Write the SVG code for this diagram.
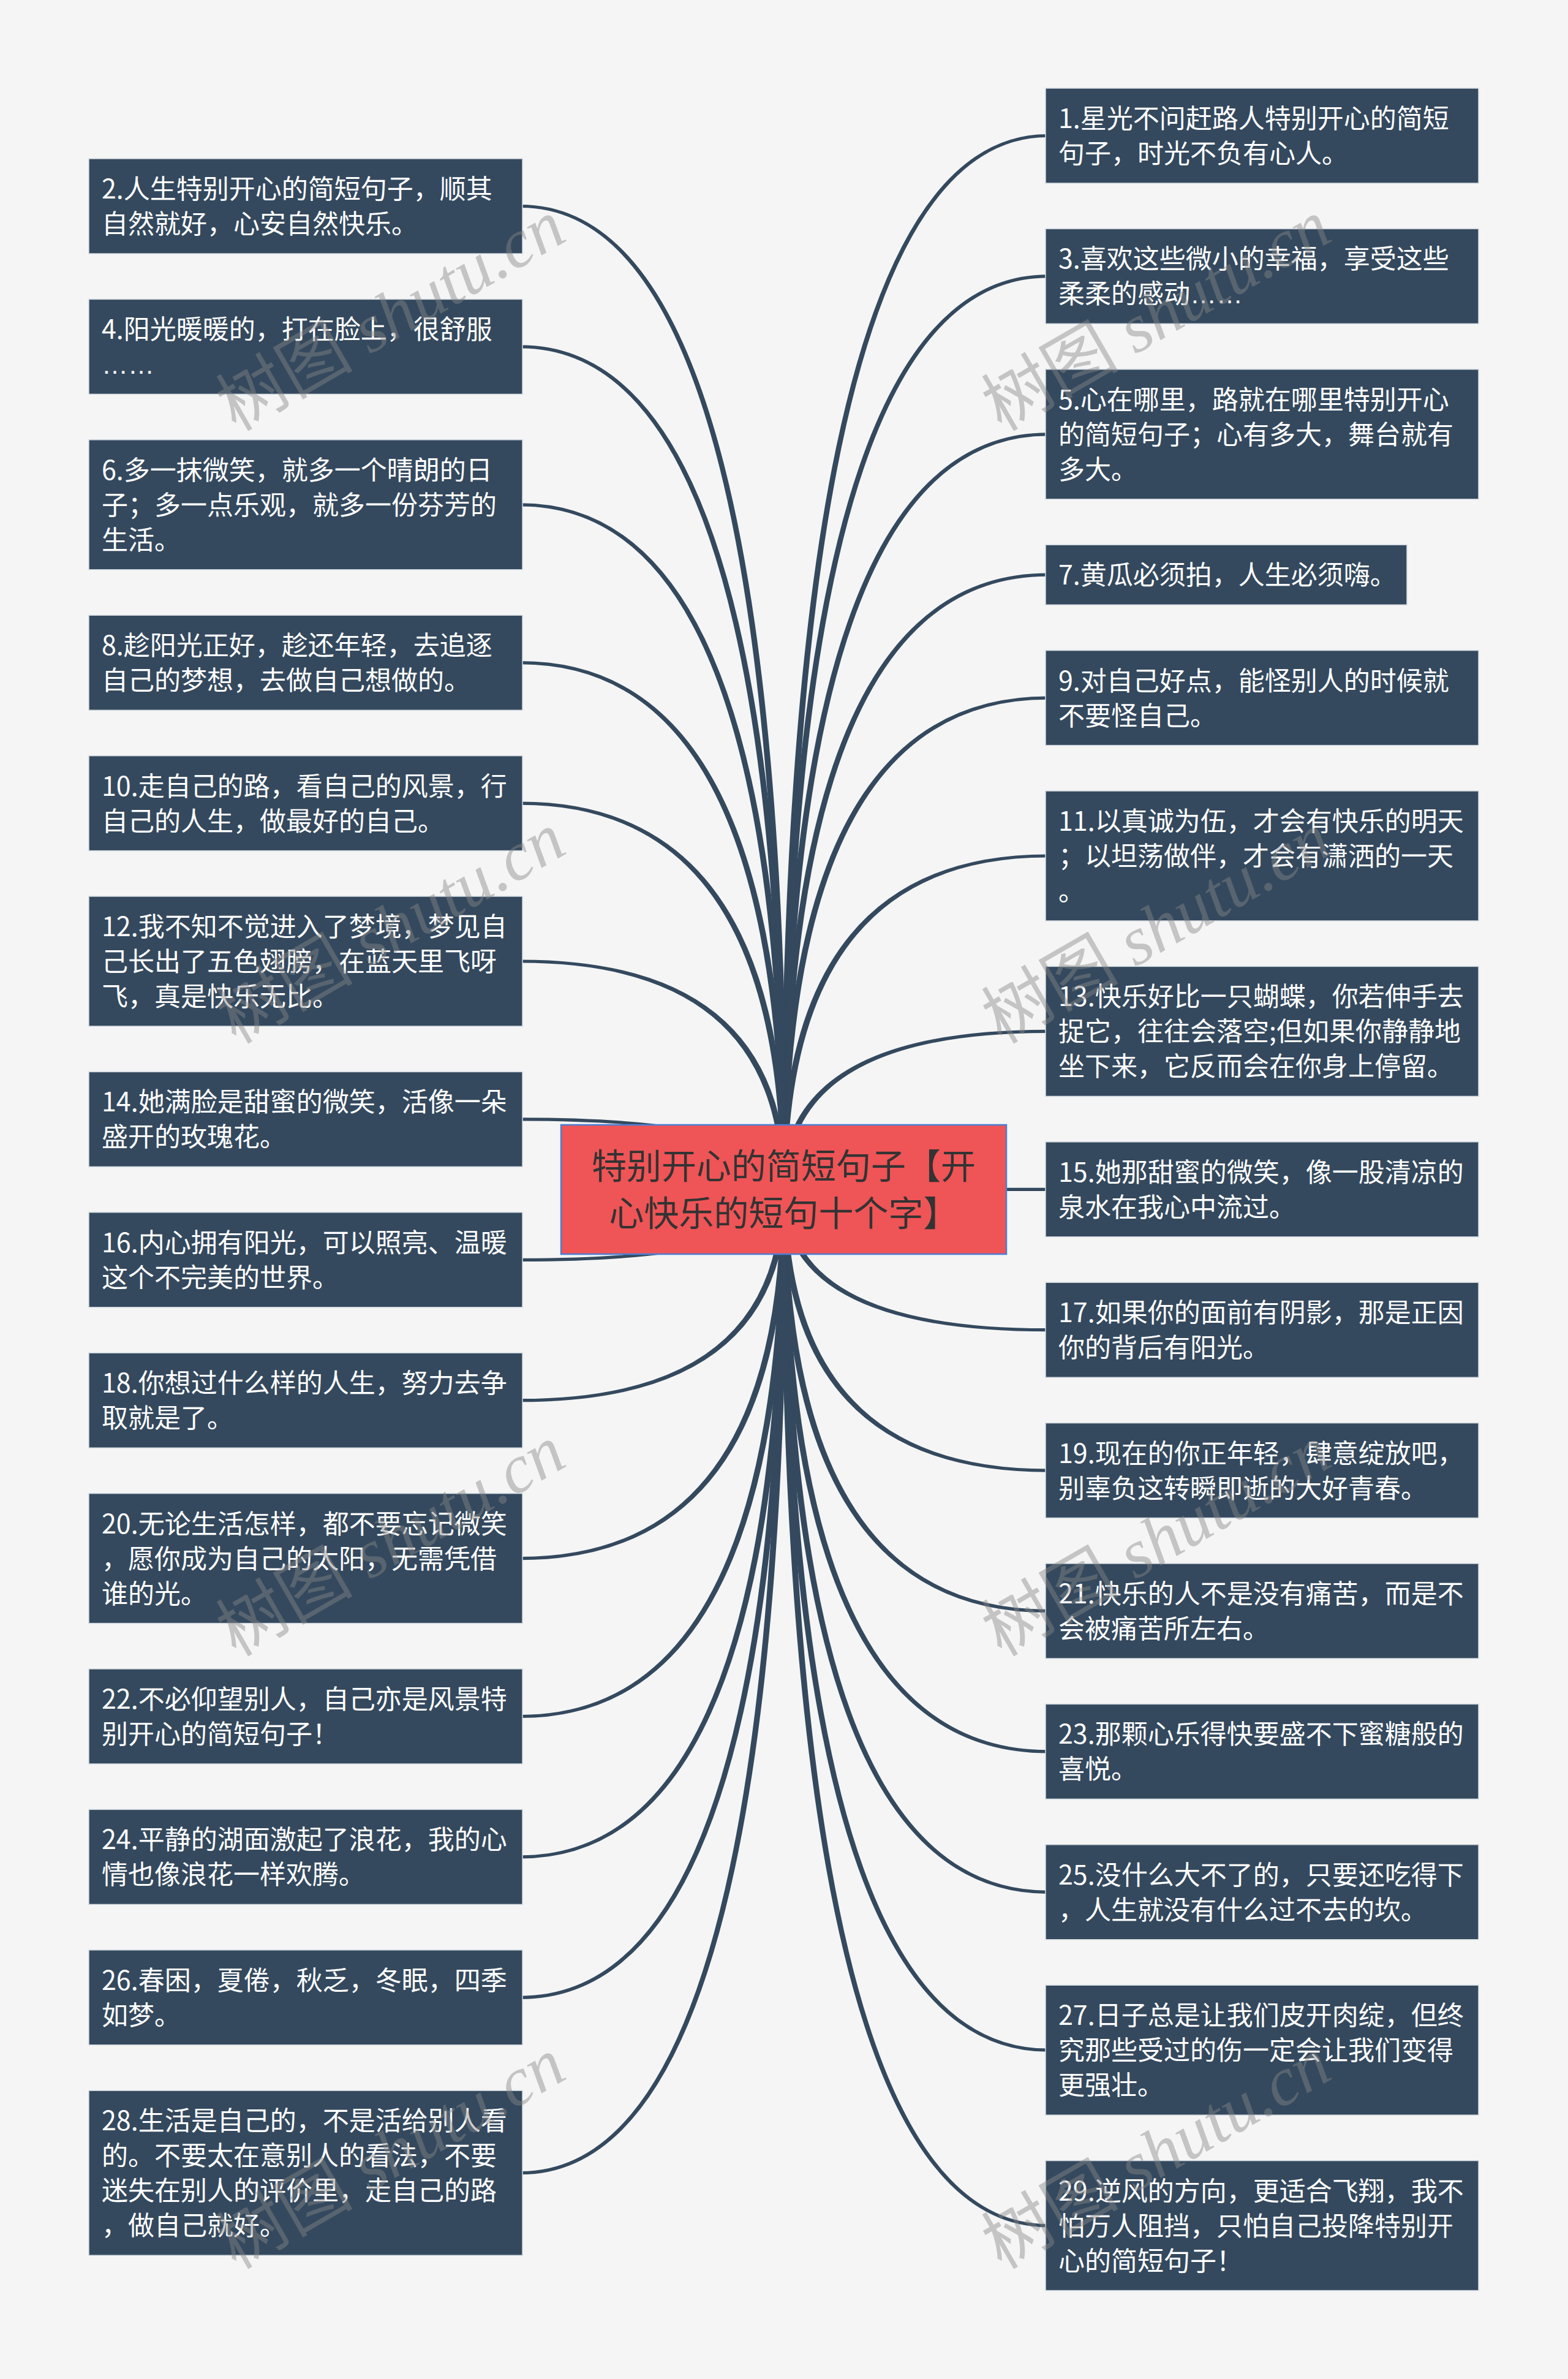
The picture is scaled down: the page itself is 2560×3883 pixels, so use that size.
<svg xmlns="http://www.w3.org/2000/svg" width="2560" height="3883" viewBox="0 0 2560 3883">
<style>
.bg{fill:#F5F5F5}
.conn path{fill:#34495E}
.leaf rect{fill:#34495E;stroke:#D3DAE0;stroke-width:1.5}
.leaf text{fill:#FFFFFF;font-family:"Noto Sans CJK SC",sans-serif;font-size:43px}
.ell{font-family:"Liberation Sans",sans-serif}
.root rect{fill:#EF5456;stroke:#4A7FD6;stroke-width:2.5}
.root text{fill:#333333;font-family:"Noto Sans CJK SC",sans-serif;font-size:57px;text-anchor:middle}
.wm{font-family:"Liberation Serif","Noto Sans CJK SC",serif;font-style:italic;font-size:112px;fill:#868686;fill-opacity:0.44}
.wm .cjk{font-family:"Noto Sans CJK SC",sans-serif;font-style:normal}
</style>
<rect class="bg" x="0" y="0" width="2560" height="3883"/>
<g id="connectors" class="conn">
<path d="M1275,1941.5 Q1275,218.9 1710,218.9 L1710,224.1 Q1285,224.1 1285,1941.5Z"/>
<path d="M1275,1941.5 Q1275,448.3 1710,448.3 L1710,453.5 Q1285,453.5 1285,1941.5Z"/>
<path d="M1275,1941.5 Q1275,706.2 1710,706.2 L1710,711.4 Q1285,711.4 1285,1941.5Z"/>
<path d="M1275,1941.5 Q1275,935.6 1710,935.6 L1710,940.8 Q1285,940.8 1285,1941.5Z"/>
<path d="M1275,1941.5 Q1275,1136.5 1710,1136.5 L1710,1141.7 Q1285,1141.7 1285,1941.5Z"/>
<path d="M1275,1941.5 Q1275,1394.4 1710,1394.4 L1710,1399.6 Q1285,1399.6 1285,1941.5Z"/>
<path d="M1275,1941.5 Q1275,1680.8 1710,1680.8 L1710,1686.0 Q1285,1686.0 1285,1941.5Z"/>
<path d="M1275,1941.5 Q1275,1938.7 1710,1938.7 L1710,1943.9 Q1285,1943.9 1285,1941.5Z"/>
<path d="M1275,1941.5 Q1275,2173.3 1710,2173.3 L1710,2168.1 Q1285,2168.1 1285,1941.5Z"/>
<path d="M1275,1941.5 Q1275,2402.7 1710,2402.7 L1710,2397.5 Q1285,2397.5 1285,1941.5Z"/>
<path d="M1275,1941.5 Q1275,2632.1 1710,2632.1 L1710,2626.9 Q1285,2626.9 1285,1941.5Z"/>
<path d="M1275,1941.5 Q1275,2861.5 1710,2861.5 L1710,2856.3 Q1285,2856.3 1285,1941.5Z"/>
<path d="M1275,1941.5 Q1275,3090.9 1710,3090.9 L1710,3085.7 Q1285,3085.7 1285,1941.5Z"/>
<path d="M1275,1941.5 Q1275,3348.8 1710,3348.8 L1710,3343.6 Q1285,3343.6 1285,1941.5Z"/>
<path d="M1275,1941.5 Q1275,3635.2 1710,3635.2 L1710,3630.0 Q1285,3630.0 1285,1941.5Z"/>
<path d="M1285,1941.5 Q1285,333.9 850,333.9 L850,339.1 Q1275,339.1 1275,1941.5Z"/>
<path d="M1285,1941.5 Q1285,563.3 850,563.3 L850,568.5 Q1275,568.5 1275,1941.5Z"/>
<path d="M1285,1941.5 Q1285,821.2 850,821.2 L850,826.4 Q1275,826.4 1275,1941.5Z"/>
<path d="M1285,1941.5 Q1285,1079.1 850,1079.1 L850,1084.3 Q1275,1084.3 1275,1941.5Z"/>
<path d="M1285,1941.5 Q1285,1308.5 850,1308.5 L850,1313.7 Q1275,1313.7 1275,1941.5Z"/>
<path d="M1285,1941.5 Q1285,1566.4 850,1566.4 L850,1571.6 Q1275,1571.6 1275,1941.5Z"/>
<path d="M1285,1941.5 Q1285,1824.3 850,1824.3 L850,1829.5 Q1275,1829.5 1275,1941.5Z"/>
<path d="M1285,1941.5 Q1285,2058.9 850,2058.9 L850,2053.7 Q1275,2053.7 1275,1941.5Z"/>
<path d="M1285,1941.5 Q1285,2288.3 850,2288.3 L850,2283.1 Q1275,2283.1 1275,1941.5Z"/>
<path d="M1285,1941.5 Q1285,2546.2 850,2546.2 L850,2541.0 Q1275,2541.0 1275,1941.5Z"/>
<path d="M1285,1941.5 Q1285,2804.1 850,2804.1 L850,2798.9 Q1275,2798.9 1275,1941.5Z"/>
<path d="M1285,1941.5 Q1285,3033.5 850,3033.5 L850,3028.3 Q1275,3028.3 1275,1941.5Z"/>
<path d="M1285,1941.5 Q1285,3262.9 850,3262.9 L850,3257.7 Q1275,3257.7 1275,1941.5Z"/>
<path d="M1285,1941.5 Q1285,3549.3 850,3549.3 L850,3544.1 Q1275,3544.1 1275,1941.5Z"/>
</g>
<g id="root" class="root">
<rect x="916" y="1836" width="727" height="211"/>
<text x="1279.5" y="1924">特别开心的简短句子【开</text>
<text x="1279.5" y="2001">心快乐的短句十个字】</text>
</g>
<g id="n1" class="leaf" transform="translate(1707,144)"><rect width="707" height="155"/><text x="21" y="65">1.星光不问赶路人特别开心的简短</text><text x="21" y="122">句子，时光不负有心人。</text></g>
<g id="n3" class="leaf" transform="translate(1707,373.4)"><rect width="707" height="155"/><text x="21" y="65">3.喜欢这些微小的幸福，享受这些</text><text x="21" y="122">柔柔的感动<tspan class="ell">……</tspan></text></g>
<g id="n5" class="leaf" transform="translate(1707,602.8)"><rect width="707" height="212"/><text x="21" y="65">5.心在哪里，路就在哪里特别开心</text><text x="21" y="122">的简短句子；心有多大，舞台就有</text><text x="21" y="179">多大。</text></g>
<g id="n7" class="leaf" transform="translate(1707,889.2)"><rect width="590" height="98"/><text x="21" y="65">7.黄瓜必须拍，人生必须嗨。</text></g>
<g id="n9" class="leaf" transform="translate(1707,1061.6)"><rect width="707" height="155"/><text x="21" y="65">9.对自己好点，能怪别人的时候就</text><text x="21" y="122">不要怪自己。</text></g>
<g id="n11" class="leaf" transform="translate(1707,1291)"><rect width="707" height="212"/><text x="21" y="65">11.以真诚为伍，才会有快乐的明天</text><text x="21" y="122">；以坦荡做伴，才会有潇洒的一天</text><text x="21" y="179">。</text></g>
<g id="n13" class="leaf" transform="translate(1707,1577.4)"><rect width="707" height="212"/><text x="21" y="65">13.快乐好比一只蝴蝶，你若伸手去</text><text x="21" y="122">捉它，往往会落空;但如果你静静地</text><text x="21" y="179">坐下来，它反而会在你身上停留。</text></g>
<g id="n15" class="leaf" transform="translate(1707,1863.8)"><rect width="707" height="155"/><text x="21" y="65">15.她那甜蜜的微笑，像一股清凉的</text><text x="21" y="122">泉水在我心中流过。</text></g>
<g id="n17" class="leaf" transform="translate(1707,2093.2)"><rect width="707" height="155"/><text x="21" y="65">17.如果你的面前有阴影，那是正因</text><text x="21" y="122">你的背后有阳光。</text></g>
<g id="n19" class="leaf" transform="translate(1707,2322.6)"><rect width="707" height="155"/><text x="21" y="65">19.现在的你正年轻，肆意绽放吧，</text><text x="21" y="122">别辜负这转瞬即逝的大好青春。</text></g>
<g id="n21" class="leaf" transform="translate(1707,2552)"><rect width="707" height="155"/><text x="21" y="65">21.快乐的人不是没有痛苦，而是不</text><text x="21" y="122">会被痛苦所左右。</text></g>
<g id="n23" class="leaf" transform="translate(1707,2781.4)"><rect width="707" height="155"/><text x="21" y="65">23.那颗心乐得快要盛不下蜜糖般的</text><text x="21" y="122">喜悦。</text></g>
<g id="n25" class="leaf" transform="translate(1707,3010.8)"><rect width="707" height="155"/><text x="21" y="65">25.没什么大不了的，只要还吃得下</text><text x="21" y="122">，人生就没有什么过不去的坎。</text></g>
<g id="n27" class="leaf" transform="translate(1707,3240.2)"><rect width="707" height="212"/><text x="21" y="65">27.日子总是让我们皮开肉绽，但终</text><text x="21" y="122">究那些受过的伤一定会让我们变得</text><text x="21" y="179">更强壮。</text></g>
<g id="n29" class="leaf" transform="translate(1707,3526.6)"><rect width="707" height="212"/><text x="21" y="65">29.逆风的方向，更适合飞翔，我不</text><text x="21" y="122">怕万人阻挡，只怕自己投降特别开</text><text x="21" y="179">心的简短句子！</text></g>
<g id="n2" class="leaf" transform="translate(145,259)"><rect width="708" height="155"/><text x="21" y="65">2.人生特别开心的简短句子，顺其</text><text x="21" y="122">自然就好，心安自然快乐。</text></g>
<g id="n4" class="leaf" transform="translate(145,488.4)"><rect width="708" height="155"/><text x="21" y="65">4.阳光暖暖的，打在脸上，很舒服</text><text x="21" y="122"><tspan class="ell">……</tspan></text></g>
<g id="n6" class="leaf" transform="translate(145,717.8)"><rect width="708" height="212"/><text x="21" y="65">6.多一抹微笑，就多一个晴朗的日</text><text x="21" y="122">子；多一点乐观，就多一份芬芳的</text><text x="21" y="179">生活。</text></g>
<g id="n8" class="leaf" transform="translate(145,1004.2)"><rect width="708" height="155"/><text x="21" y="65">8.趁阳光正好，趁还年轻，去追逐</text><text x="21" y="122">自己的梦想，去做自己想做的。</text></g>
<g id="n10" class="leaf" transform="translate(145,1233.6)"><rect width="708" height="155"/><text x="21" y="65">10.走自己的路，看自己的风景，行</text><text x="21" y="122">自己的人生，做最好的自己。</text></g>
<g id="n12" class="leaf" transform="translate(145,1463)"><rect width="708" height="212"/><text x="21" y="65">12.我不知不觉进入了梦境，梦见自</text><text x="21" y="122">己长出了五色翅膀，在蓝天里飞呀</text><text x="21" y="179">飞，真是快乐无比。</text></g>
<g id="n14" class="leaf" transform="translate(145,1749.4)"><rect width="708" height="155"/><text x="21" y="65">14.她满脸是甜蜜的微笑，活像一朵</text><text x="21" y="122">盛开的玫瑰花。</text></g>
<g id="n16" class="leaf" transform="translate(145,1978.8)"><rect width="708" height="155"/><text x="21" y="65">16.内心拥有阳光，可以照亮、温暖</text><text x="21" y="122">这个不完美的世界。</text></g>
<g id="n18" class="leaf" transform="translate(145,2208.2)"><rect width="708" height="155"/><text x="21" y="65">18.你想过什么样的人生，努力去争</text><text x="21" y="122">取就是了。</text></g>
<g id="n20" class="leaf" transform="translate(145,2437.6)"><rect width="708" height="212"/><text x="21" y="65">20.无论生活怎样，都不要忘记微笑</text><text x="21" y="122">，愿你成为自己的太阳，无需凭借</text><text x="21" y="179">谁的光。</text></g>
<g id="n22" class="leaf" transform="translate(145,2724)"><rect width="708" height="155"/><text x="21" y="65">22.不必仰望别人，自己亦是风景特</text><text x="21" y="122">别开心的简短句子！</text></g>
<g id="n24" class="leaf" transform="translate(145,2953.4)"><rect width="708" height="155"/><text x="21" y="65">24.平静的湖面激起了浪花，我的心</text><text x="21" y="122">情也像浪花一样欢腾。</text></g>
<g id="n26" class="leaf" transform="translate(145,3182.8)"><rect width="708" height="155"/><text x="21" y="65">26.春困，夏倦，秋乏，冬眠，四季</text><text x="21" y="122">如梦。</text></g>
<g id="n28" class="leaf" transform="translate(145,3412.2)"><rect width="708" height="269"/><text x="21" y="65">28.生活是自己的，不是活给别人看</text><text x="21" y="122">的。不要太在意别人的看法，不要</text><text x="21" y="179">迷失在别人的评价里，走自己的路</text><text x="21" y="236">，做自己就好。</text></g>
<g id="watermarks" class="wm">
<text transform="translate(385,705) rotate(-30)"><tspan class="cjk">树图</tspan> shutu.cn</text>
<text transform="translate(385,1705) rotate(-30)"><tspan class="cjk">树图</tspan> shutu.cn</text>
<text transform="translate(385,2705) rotate(-30)"><tspan class="cjk">树图</tspan> shutu.cn</text>
<text transform="translate(385,3705) rotate(-30)"><tspan class="cjk">树图</tspan> shutu.cn</text>
<text transform="translate(1635,705) rotate(-30)"><tspan class="cjk">树图</tspan> shutu.cn</text>
<text transform="translate(1635,1705) rotate(-30)"><tspan class="cjk">树图</tspan> shutu.cn</text>
<text transform="translate(1635,2705) rotate(-30)"><tspan class="cjk">树图</tspan> shutu.cn</text>
<text transform="translate(1635,3705) rotate(-30)"><tspan class="cjk">树图</tspan> shutu.cn</text>
</g>
</svg>
